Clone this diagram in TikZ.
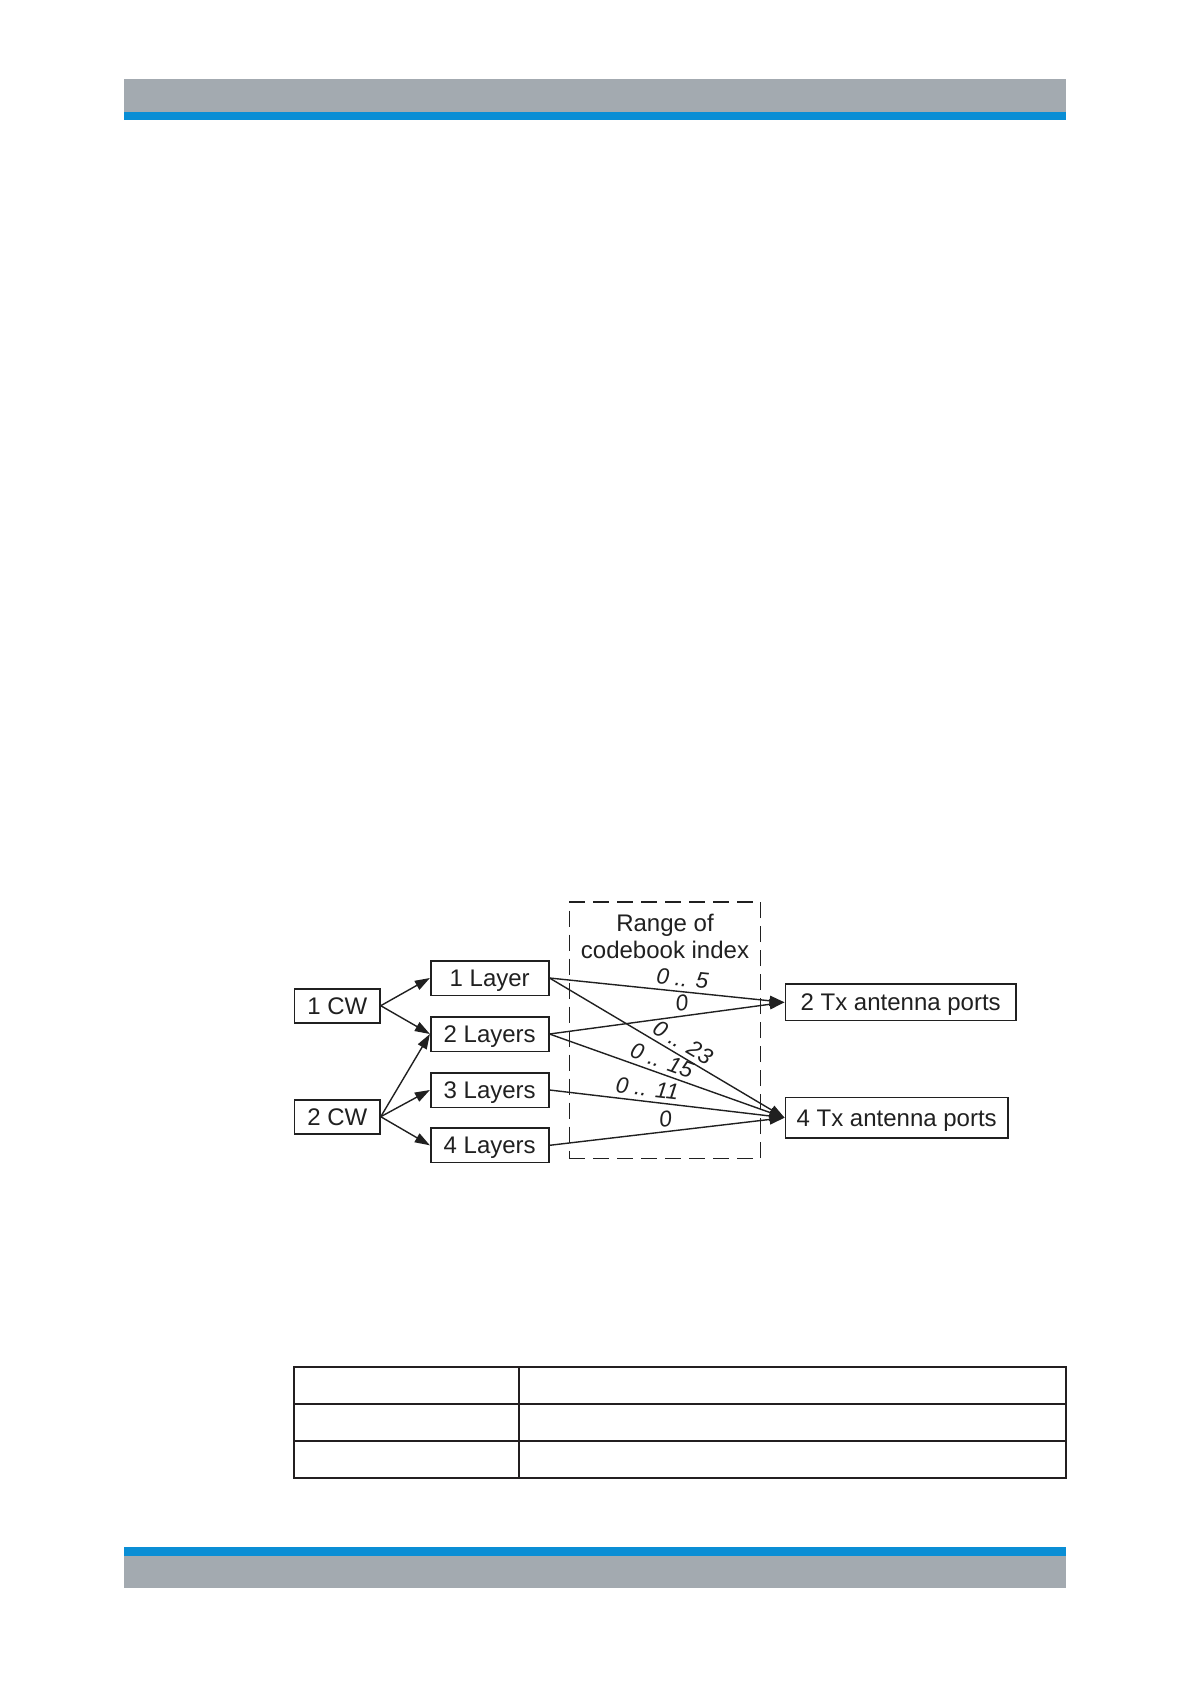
\documentclass[tikz,border=0pt]{standalone}
\usepackage{fontspec}
\setmainfont{Liberation Sans}
\usetikzlibrary{arrows.meta}
\definecolor{hdrgray}{HTML}{A3AAB0}
\definecolor{hdrblue}{HTML}{0A8ED5}
\definecolor{ink}{HTML}{202020}
\definecolor{tblline}{HTML}{231F20}
\tikzset{
  box/.style={draw=ink, line width=1.6pt, inner sep=0pt, text=ink,
    font=\fontsize{24}{29}\selectfont, text height=17pt, text depth=0pt},
  plaintext/.style={inner sep=0pt, text=ink,
    font=\fontsize{24}{29}\selectfont, text height=17pt, text depth=0pt},
  conn/.style={draw=ink, line width=1.4pt, -{Triangle[length=15pt,width=10pt]}},
  lbl/.style={font=\itshape\fontsize{22.5}{26}\selectfont, text=ink, sloped, above,
    inner sep=0pt, inner ysep=4.5pt, text height=16pt, text depth=0pt},
  rangebox/.style={draw=ink, line width=1.5pt, dash pattern=on 16pt off 8pt},
  tblrule/.style={draw=tblline, line width=2pt}
}
\begin{document}
\begin{tikzpicture}[x=1pt,y=-1pt]
\useasboundingbox (0,0) rectangle (1192,1685);
\fill[white] (0,0) rectangle (1192,1685);
% header and footer bands
\fill[hdrgray] (124.3,79) rectangle (1066,112);
\fill[hdrblue] (124.3,112) rectangle (1066,120);
\fill[hdrblue] (124.3,1547) rectangle (1066,1556);
\fill[hdrgray] (124.3,1556) rectangle (1066,1588);
% empty table
\draw[tblrule] (294.3,1367) rectangle (1066,1478);
\draw[tblrule] (294.3,1404) -- (1066,1404);
\draw[tblrule] (294.3,1441) -- (1066,1441);
\draw[tblrule] (518.7,1367) -- (518.7,1478);
% dashed range box
\node[rangebox, minimum width=191.4pt, minimum height=256.7pt, inner sep=0pt] (range) at (665,1030.35) {};
\node[plaintext] (rng1) at (665,923.2) {Range of};
\node[plaintext] (rng2) at (665,950) {codebook index};
% boxes
\node[box, minimum width=85.3pt, minimum height=34pt] (cw1) at (337.3,1005.7) {1 CW};
\node[box, minimum width=85.3pt, minimum height=34pt] (cw2) at (337.3,1116.7) {2 CW};
\node[box, minimum width=118pt, minimum height=34.6pt] (l1) at (489.7,978) {1 Layer};
\node[box, minimum width=118pt, minimum height=34.6pt] (l2) at (489.7,1034) {2 Layers};
\node[box, minimum width=118pt, minimum height=34.6pt] (l3) at (489.7,1090) {3 Layers};
\node[box, minimum width=118pt, minimum height=34.6pt] (l4) at (489.7,1145.3) {4 Layers};
\node[box, minimum width=230.7pt, minimum height=36.7pt] (tx2) at (900.7,1002.3) {2 Tx antenna ports};
\node[box, minimum width=222.7pt, minimum height=40.7pt] (tx4) at (896.7,1117.7) {4 Tx antenna ports};
% connectors
\draw[conn] (cw1.east) -- (l1.west);
\draw[conn] (cw1.east) -- (l2.west);
\draw[conn] (cw2.east) -- (l2.west);
\draw[conn] (cw2.east) -- (l3.west);
\draw[conn] (cw2.east) -- (l4.west);
\draw[conn] (l1.east) -- node[lbl, pos=0.56] (lab1) {0 .. 5} (tx2.west);
\draw[conn] (l2.east) -- node[lbl, pos=0.57] (lab2) {0} (tx2.west);
\draw[conn] (l1.east) -- node[lbl, pos=0.54] (lab3) {0 .. 23} (tx4.west);
\draw[conn] (l2.east) -- node[lbl, pos=0.46] (lab4) {0 .. 15} (tx4.west);
\draw[conn] (l3.east) -- node[lbl, pos=0.41] (lab5) {0 .. 11} (tx4.west);
\draw[conn] (l4.east) -- node[lbl, pos=0.50] (lab6) {0} (tx4.west);
\end{tikzpicture}
\end{document}
